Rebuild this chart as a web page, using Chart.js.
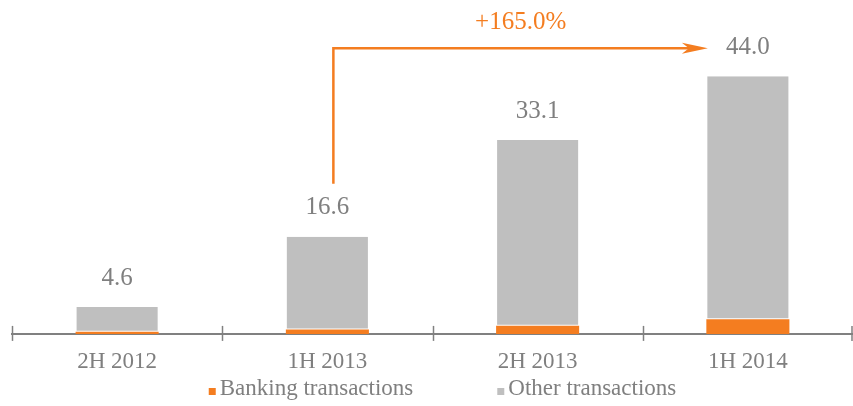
<!DOCTYPE html>
<html>
<head>
<meta charset="utf-8">
<script src="https://cdn.jsdelivr.net/npm/chart.js@4.4.1/dist/chart.umd.min.js"></script>
<style>
  html, body { margin: 0; padding: 0; background: #fff; }
  #wrap { width: 853px; height: 406px; position: relative; }
</style>
</head>
<body>
<div id="wrap"><canvas id="myBarChart"></canvas></div>
<script>
// data
var periods = ["2H 2012", "1H 2013", "2H 2013", "1H 2014"];
var banking = [0.35, 0.75, 1.4, 2.5];
var other = [4.25, 15.85, 31.7, 41.5];
var totals = [4.6, 16.6, 33.1, 44.0];
var growthText = "+165.0%";
var growthFrom = 1;
var growthTo = 3;

var serif = "'Liberation Serif', 'Times New Roman', serif";
var orange = "#F47D20";
var grey = "#BFBFBF";
var textGrey = "#7F7F7F";

// totals on top of the stacks, the arrow and the legend
var extras = {
    id: "extras",
    afterDatasetsDraw: function(chart) {
        var ctx = chart.ctx;
        var x = chart.scales.x;
        var y = chart.scales.y;
        var area = chart.chartArea;
        ctx.save();

        // axis ticks crossing the line
        ctx.strokeStyle = "#808080";
        ctx.lineWidth = 1.5;
        var step = (area.right - area.left) / periods.length;
        for (var i = 0; i <= periods.length; i++) {
            var tx = Math.round(area.left + step * i) + 0.5;
            if (i == periods.length) tx = area.right - 1;
            ctx.beginPath();
            ctx.moveTo(tx, area.bottom - 8);
            ctx.lineTo(tx, area.bottom + 7);
            ctx.stroke();
        }

        // totals
        ctx.fillStyle = textGrey;
        ctx.font = "25px " + serif;
        ctx.textAlign = "center";
        ctx.textBaseline = "middle";
        for (var i = 0; i < totals.length; i++) {
            ctx.fillText(totals[i].toFixed(1), x.getPixelForValue(i), y.getPixelForValue(totals[i]) - 29);
        }

        // growth arrow
        var startX = x.getPixelForValue(growthFrom) + 6;
        var startY = y.getPixelForValue(totals[growthFrom]) - 53;
        var lineY = y.getPixelForValue(totals[growthTo]) - 28;
        var tipX = x.getPixelForValue(growthTo) - 40;
        ctx.strokeStyle = orange;
        ctx.fillStyle = orange;
        ctx.lineWidth = 2.5;
        ctx.beginPath();
        ctx.moveTo(startX, startY);
        ctx.lineTo(startX, lineY);
        ctx.lineTo(tipX - 10, lineY);
        ctx.stroke();
        ctx.beginPath();
        ctx.moveTo(tipX, lineY);
        ctx.lineTo(tipX - 26, lineY - 5.5);
        ctx.lineTo(tipX - 19, lineY);
        ctx.lineTo(tipX - 26, lineY + 5.5);
        ctx.closePath();
        ctx.fill();
        ctx.font = "25px " + serif;
        ctx.fillText(growthText, (startX + tipX) / 2, lineY - 26);

        // legend
        ctx.font = "23px " + serif;
        ctx.textAlign = "left";
        ctx.textBaseline = "alphabetic";
        var items = chart.data.datasets;
        var gap = 84;
        var widths = items.map(function(d) { return 11 + ctx.measureText(d.label).width; });
        var total = widths[0] + gap + widths[1];
        var lx = (area.left + area.right) / 2 + 10 - total / 2;
        var base = 395;
        for (var i = 0; i < items.length; i++) {
            ctx.fillStyle = items[i].backgroundColor;
            ctx.fillRect(lx, base - 7, 7, 7);
            ctx.fillStyle = textGrey;
            ctx.fillText(items[i].label, lx + 11, base);
            lx += widths[i] + gap;
        }
        ctx.restore();
    }
};

var ctx = document.getElementById("myBarChart");
var myBarChart = new Chart(ctx, {
    type: "bar",
    data: {
        labels: periods,
        datasets: [
            {
                label: "Banking transactions",
                data: banking,
                backgroundColor: orange,
                borderWidth: 0
            },
            {
                label: "Other transactions",
                data: other,
                backgroundColor: grey,
                borderColor: "#ffffff",
                borderWidth: {top: 0, left: 1, right: 1, bottom: 1},
                borderSkipped: false
            }
        ]
    },
    options: {
        responsive: true,
        maintainAspectRatio: false,
        animation: false,
        categoryPercentage: 1,
        barPercentage: 0.395,
        layout: { padding: { left: 12, right: 0, top: 41, bottom: 24.5 } },
        plugins: {
            legend: { display: false },
            tooltip: { enabled: false }
        },
        scales: {
            x: {
                stacked: true,
                grid: { display: false },
                border: { display: true, color: "#808080", width: 2 },
                ticks: { color: textGrey, font: { family: serif, size: 23 }, padding: 6 }
            },
            y: {
                stacked: true,
                display: false,
                min: 0,
                max: 50
            }
        }
    },
    plugins: [extras]
});
</script>
</body>
</html>
